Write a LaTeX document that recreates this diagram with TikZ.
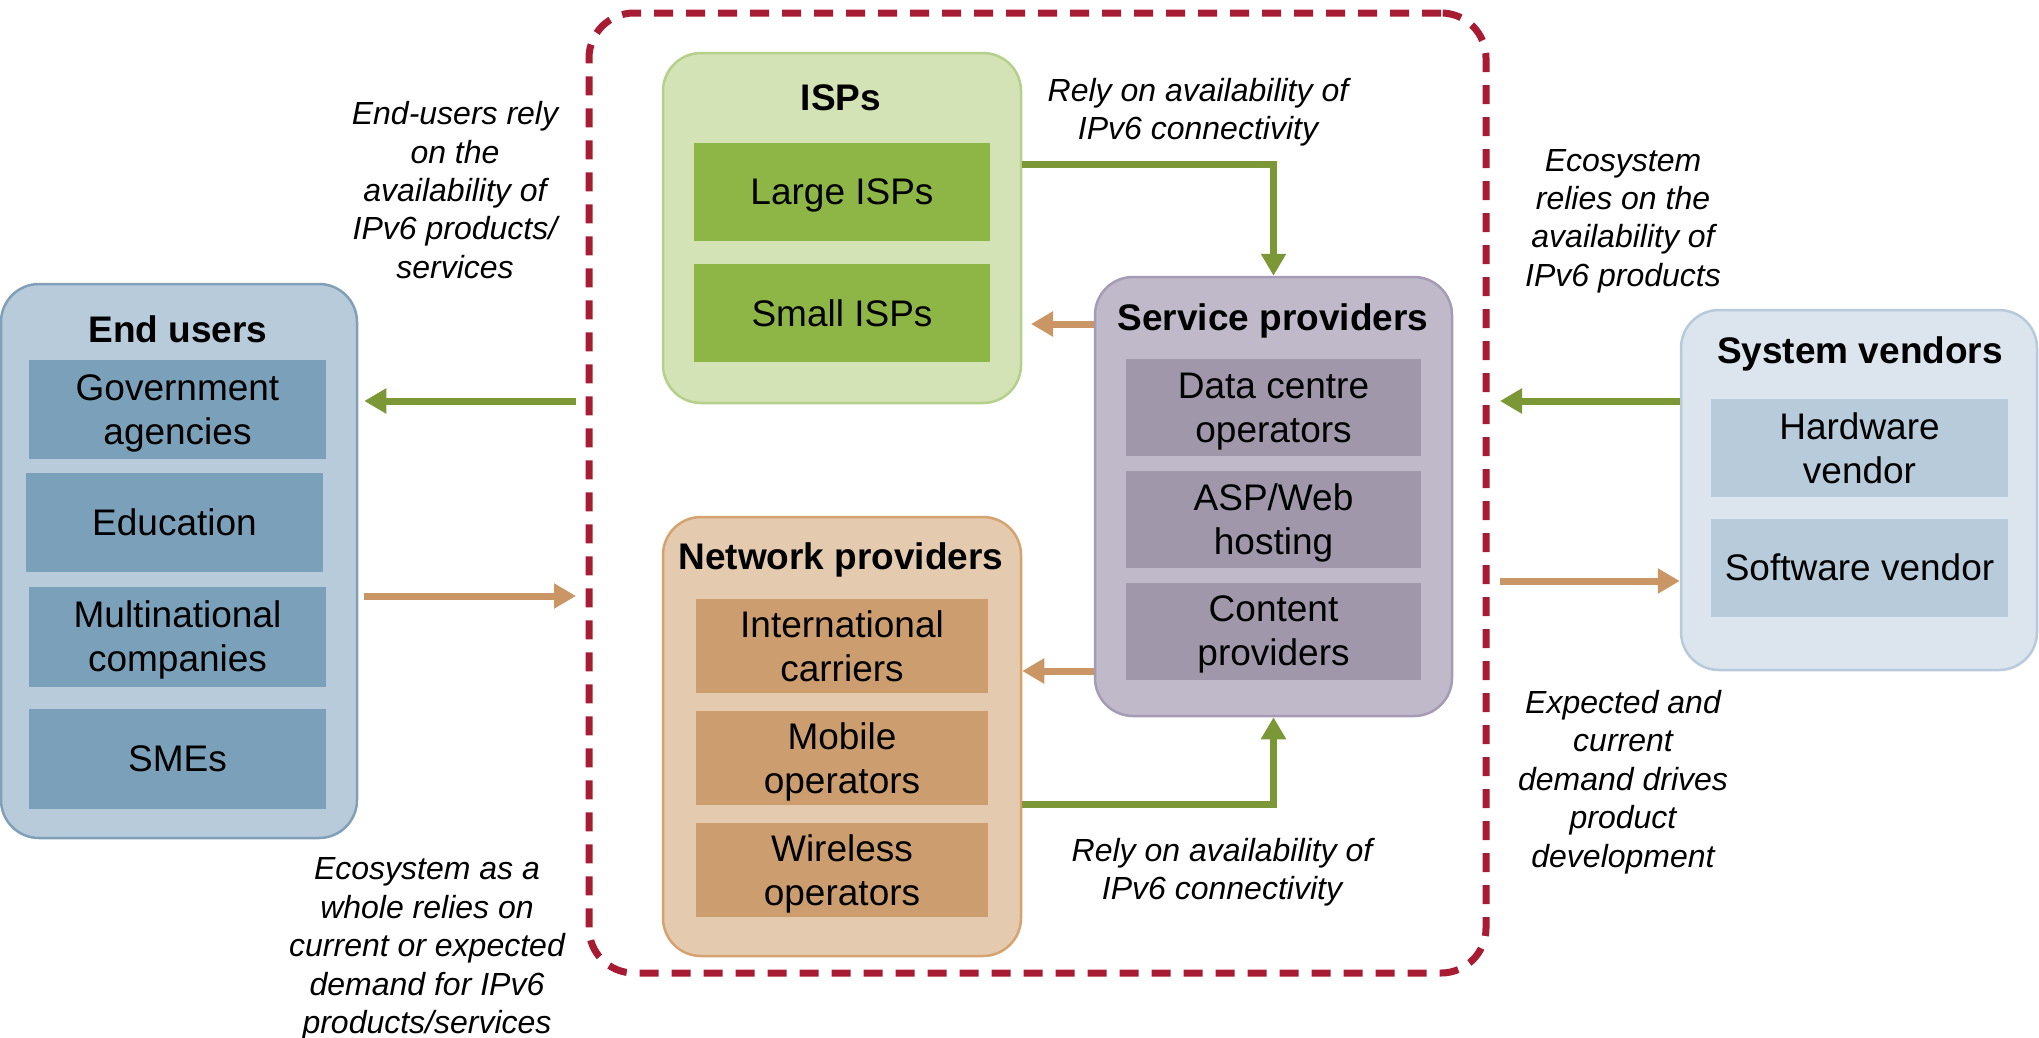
\documentclass[tikz,border=0pt]{standalone}
\usepackage{fontspec}
\setmainfont{Liberation Sans}
\usetikzlibrary{arrows.meta}
\definecolor{euout}{HTML}{B8CBDA}
\definecolor{euline}{HTML}{819FB7}
\definecolor{euin}{HTML}{7BA0B9}
\definecolor{svout}{HTML}{DCE5EE}
\definecolor{svline}{HTML}{B7CADB}
\definecolor{svin}{HTML}{B8CBDA}
\definecolor{ispout}{HTML}{D4E3B5}
\definecolor{ispline}{HTML}{B5D08A}
\definecolor{ispin}{HTML}{8DB646}
\definecolor{npout}{HTML}{E4CBB0}
\definecolor{npline}{HTML}{D6A26F}
\definecolor{npin}{HTML}{CC9D6F}
\definecolor{spout}{HTML}{C0B9C9}
\definecolor{spline}{HTML}{A59BB4}
\definecolor{spin}{HTML}{A197AB}
\definecolor{ecored}{HTML}{A71B33}
\definecolor{arrgreen}{HTML}{7B9736}
\definecolor{arrorange}{HTML}{CB9666}
\tikzset{
  grp/.style={draw, line width=2.5pt, rounded corners=38pt},
  item/.style={inner sep=0pt, text depth=0pt, align=center, font=\fontsize{37}{44}\selectfont},
  ttl/.style={font=\fontsize{37}{44}\selectfont\bfseries},
  lbl/.style={align=center, font=\fontsize{32}{38.4}\selectfont\itshape},
  garrow/.style={->, line width=7pt, draw=arrgreen},
  oarrow/.style={->, line width=7pt, draw=arrorange}
}
\begin{document}
\begin{tikzpicture}[x=1pt,y=-1pt,>={Triangle[length=22pt,width=24pt]}]
\useasboundingbox (0,0) rectangle (2039,1037);
\node (eco) at (1037.5,493)[draw=ecored, line width=7pt, dash pattern=on 19pt off 13pt, rounded corners=45pt, minimum width=897pt, minimum height=960pt]{};

\node (endusers) at (179,561)[grp, fill=euout, draw=euline, minimum width=356pt, minimum height=554pt]{};
\node (eutitle) at (178,329)[ttl]{End users};
\node (gov) at (177.5,409.5)[item, fill=euin, minimum width=297pt, minimum height=99pt]{Government\\agencies};
\node (edu) at (174.5,522.5)[item, fill=euin, minimum width=297pt, minimum height=99pt]{Education};
\node (multi) at (177.5,636.5)[item, fill=euin, minimum width=297pt, minimum height=100pt]{Multinational\\companies};
\node (smes) at (177.5,759)[item, fill=euin, minimum width=297pt, minimum height=100pt]{SMEs};

\node (isps) at (842,228)[grp, fill=ispout, draw=ispline, minimum width=358pt, minimum height=350pt]{};
\node (isptitle) at (841,98)[ttl]{ISPs};
\node (large) at (842,192)[item, fill=ispin, minimum width=296pt, minimum height=98pt]{Large ISPs};
\node (small) at (842,313)[item, fill=ispin, minimum width=296pt, minimum height=98pt]{Small ISPs};

\node (network) at (842,736.5)[grp, fill=npout, draw=npline, minimum width=358pt, minimum height=439pt]{};
\node (nptitle) at (841,560)[ttl]{Network providers};
\node (intl) at (842,646)[item, fill=npin, minimum width=292pt, minimum height=94pt]{International\\carriers};
\node (mobile) at (842,758)[item, fill=npin, minimum width=292pt, minimum height=94pt]{Mobile\\operators};
\node (wireless) at (842,870)[item, fill=npin, minimum width=292pt, minimum height=94pt]{Wireless\\operators};

\node (service) at (1273.5,496.5)[grp, fill=spout, draw=spline, minimum width=357pt, minimum height=439pt]{};
\node (sptitle) at (1273,321)[ttl]{Service providers};
\node (dc) at (1273.5,407.5)[item, fill=spin, minimum width=295pt, minimum height=97pt]{Data centre\\operators};
\node (asp) at (1273.5,519.5)[item, fill=spin, minimum width=295pt, minimum height=97pt]{ASP/Web\\hosting};
\node (content) at (1273.5,631)[item, fill=spin, minimum width=295pt, minimum height=97pt]{Content\\providers};

\node (vendors) at (1859,490)[grp, fill=svout, draw=svline, minimum width=356pt, minimum height=360pt]{};
\node (svtitle) at (1860,354)[ttl]{System vendors};
\node (hw) at (1859.5,448)[item, fill=svin, minimum width=297pt, minimum height=98pt]{Hardware\\vendor};
\node (sw) at (1859.5,567.5)[item, fill=svin, minimum width=297pt, minimum height=98pt]{Software vendor};

\node (eulbl) at (455,190)[lbl]{End-users rely\\on the\\availability of\\IPv6 products/\\services};
\node (wholelbl) at (427,949)[lbl]{Ecosystem as a\\whole relies on\\current or expected\\demand for IPv6\\products/services};
\node (rely1) at (1198,112)[lbl]{Rely on availability of\\IPv6 connectivity};
\node (rely2) at (1222,872)[lbl]{Rely on availability of\\IPv6 connectivity};
\node (prodlbl) at (1623,221)[lbl]{Ecosystem\\relies on the\\availability of\\IPv6 products};
\node (demandlbl) at (1623,782)[lbl]{Expected and\\current\\demand drives\\product\\development};

\coordinate (p1) at (576,401);
\coordinate (p2) at (576,596);
\coordinate (p3) at (1273.5,164);
\coordinate (p4) at (1031,324);
\coordinate (p5) at (1022,671);
\coordinate (p6) at (1273.5,804);
\coordinate (p7) at (1500,401);
\coordinate (p8) at (1500,581);
\draw[garrow] (p1) -- ([xshift=6pt]endusers.east |- p1);
\draw[oarrow] ([xshift=6pt]endusers.east |- p2) -- (p2);
\draw[garrow] (isps.east |- p3) -- (p3) -- (service.north);
\draw[oarrow] (service.west |- p4) -- (p4);
\draw[oarrow] (service.west |- p5) -- (network.east |- p5);
\draw[garrow] (network.east |- p6) -- (p6) -- (service.south);
\draw[garrow] (vendors.west |- p7) -- (p7);
\draw[oarrow] (p8) -- (vendors.west |- p8);
\end{tikzpicture}
\end{document}
